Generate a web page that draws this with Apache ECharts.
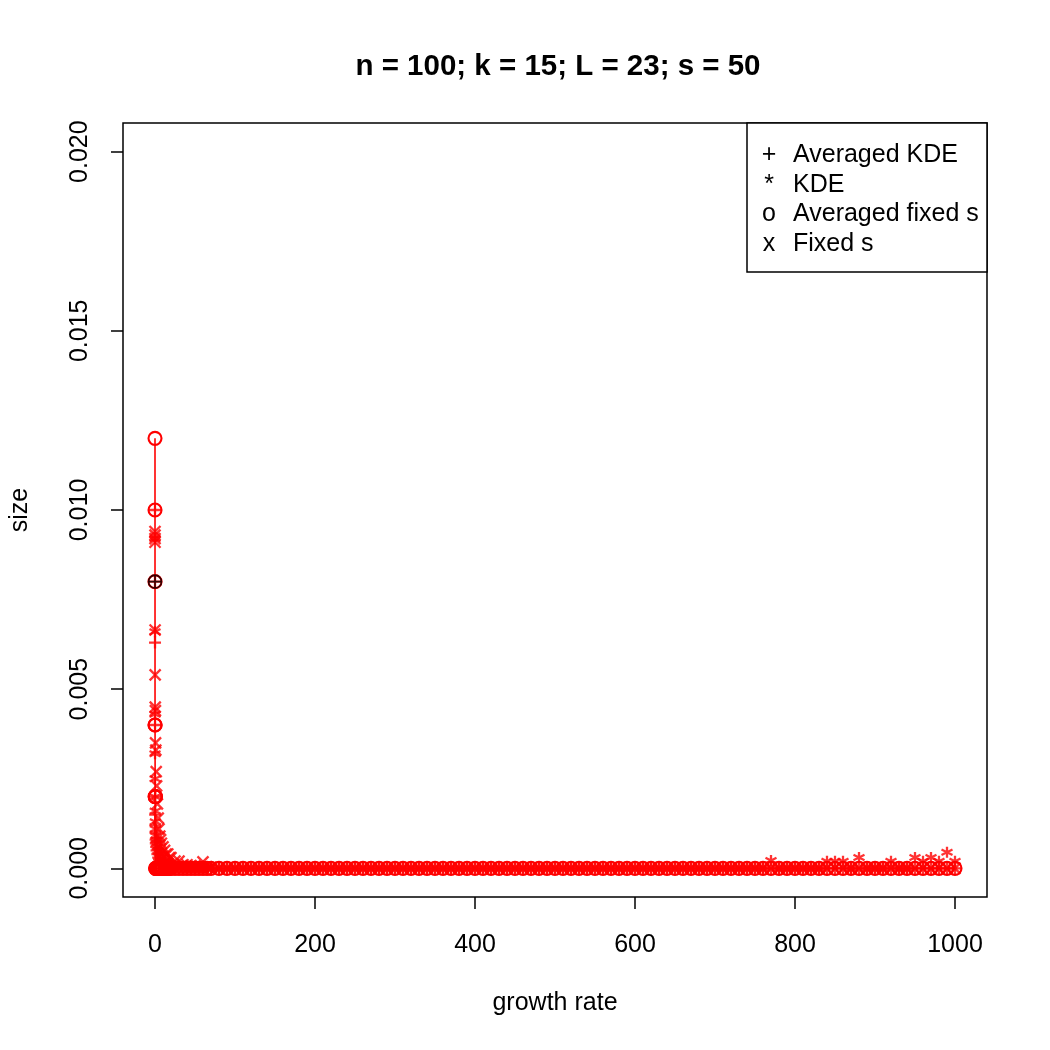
<!DOCTYPE html>
<html><head><meta charset="utf-8">
<script src="https://cdn.jsdelivr.net/npm/echarts@6/dist/echarts.min.js"></script>
<style>html,body{margin:0;padding:0;background:#fff}#c{width:1050px;height:1050px}</style>
</head><body><div id="c"></div>
<script>
const titleText = 'n = 100; k = 15; L = 23; s = 50';
const xTicks = [0, 200, 400, 600, 800, 1000];
const yTicks = [0, 0.005, 0.010, 0.015, 0.020];
const legendNames = ['Averaged KDE', 'KDE', 'Averaged fixed s', 'Fixed s'];
const legendChars = ['+', '*', 'o', 'x'];

const growthRate = [
  0,0.01,0.02,0.05,0.1,0.2,0.3,0.5,0.7,1,
  1.5,2,3,4,5,6,7,8,10,12,
  14,16,18,20,25,30,35,40,45,50,
  55,60,65,70,
  80,90,100,110,120,130,140,150,160,170,
  180,190,200,210,220,230,240,250,260,270,
  280,290,300,310,320,330,340,350,360,370,
  380,390,400,410,420,430,440,450,460,470,
  480,490,500,510,520,530,540,550,560,570,
  580,590,600,610,620,630,640,650,660,670,
  680,690,700,710,720,730,740,750,760,770,
  780,790,800,810,820,830,840,850,860,870,
  880,890,900,910,920,930,940,950,960,970,
  980,990,1000
];

const averagedKDE = [
  0.010,0.008,0.0063,0.004,0.002,0.0015,0.0012,0.001,0.0008,0.0007,
  0.0006,0.0005,0.0004,0.0003,0.00025,0.0002,0.00015,0.0001,0.00008,0.00006,
  0.00005,0.00004,0.00003,0.00003,0.00002,0.00002,0.00002,0.00002,0.00002,0.00002,
  0.00002,0.00002,0.00002,0.00002,
  0,0,0,0,0,0,0,0,0,0, 0,0,0,0,0,0,0,0,0,0, 0,0,0,0,0,0,0,0,0,0,
  0,0,0,0,0,0,0,0,0,0, 0,0,0,0,0,0,0,0,0,0, 0,0,0,0,0,0,0,0,0,0,
  0,0,0,0,0,0,0,0,0,0, 0,0,0,0,0,0,0,0,0,0, 0,0,0,0,0,0,0,0,0,0,
  0,0,0
];

const kde = [
  0.0092,0.0066,0.0043,0.0032,0.0025,0.002,0.0016,0.0013,0.0011,0.0009,
  0.0008,0.0007,0.0006,0.0005,0.00045,0.0004,0.00035,0.0003,0.00025,0.0002,
  0.00018,0.00015,0.00012,0.0001,0.00008,0.00006,0.00005,0.00004,0.00003,0.00003,
  0.00003,0.00003,0.00003,0.00003,
  0,0,0,0,0,0,0,0,0,0, 0,0,0,0,0,0,0,0,0,0, 0,0,0,0,0,0,0,0,0,0,
  0,0,0,0,0,0,0,0,0,0, 0,0,0,0,0,0,0,0,0,0, 0,0,0,0,0,0,0,0,0,0,
  0,0,0,0,0,0,0,0,0,0.00022,
  0,0,0,0,0,0,0.0002,0.0002,0.0002,0,
  0.0003,0,0,0,0.0002,0,0,0.0003,0.0002,0.0003,
  0.0002,0.00045,0.0002
];

const averagedFixedS = [
  0.012,0.010,0.008,0.004,0.004,0.002,0.002,0.002,0,0,
  0,0,0,0,0,0,0,0,0,0, 0,0,0,0,0,0,0,0,0,0,
  0,0,0,0,
  0,0,0,0,0,0,0,0,0,0, 0,0,0,0,0,0,0,0,0,0, 0,0,0,0,0,0,0,0,0,0,
  0,0,0,0,0,0,0,0,0,0, 0,0,0,0,0,0,0,0,0,0, 0,0,0,0,0,0,0,0,0,0,
  0,0,0,0,0,0,0,0,0,0, 0,0,0,0,0,0,0,0,0,0, 0,0,0,0,0,0,0,0,0,0,
  0,0,0
];

const fixedS = [
  0.0094,0.0093,0.0092,0.0091,0.00665,0.0054,0.0045,0.0044,0.0035,0.0033,
  0.0027,0.0023,0.0018,0.0014,0.0011,0.0009,0.0008,0.0007,0.0006,0.0005,
  0.0004,0.0004,0.0003,0.0003,0.0002,0.0002,0.0001,0.0001,0.00008,0.00006,
  0.00005,0.00018,0.00004,0.00003,
  0,0,0,0,0,0,0,0,0,0, 0,0,0,0,0,0,0,0,0,0, 0,0,0,0,0,0,0,0,0,0,
  0,0,0,0,0,0,0,0,0,0, 0,0,0,0,0,0,0,0,0,0, 0,0,0,0,0,0,0,0,0,0,
  0,0,0,0,0,0,0,0,0,0, 0,0,0,0,0,0,0,0,0,0, 0,0,0,0,0,0,0,0,0,0,
  0,0,0
];

// overlapping marks drawn in black at the spike
const blackMarks = [[0.01, 0.008]];

const RED = '#ff0000';
const FONT = 'Liberation Sans, Arial, Helvetica, sans-serif';
const pair = (vals) => growthRate.map((g, i) => [g, vals[i]]);

const plusPath = 'path://M0,5L10,5M5,0L5,10';
const crossPath = 'path://M0,0L10,10M10,0L0,10';
const starPath = 'path://M5,0L5,10M0.67,2.5L9.33,7.5M9.33,2.5L0.67,7.5';

const chart = echarts.init(document.getElementById('c'), null, {renderer: 'canvas'});
const axisCommon = {
  type: 'value',
  splitLine: {show: false},
  axisLine: {show: false, onZero: false},
  axisTick: {show: true, length: 12, lineStyle: {color: '#000', width: 1.5}},
  nameTextStyle: {fontSize: 25, color: '#000', fontFamily: FONT},
  nameLocation: 'middle'
};
chart.setOption({
  animation: false,
  backgroundColor: '#fff',
  title: {
    text: titleText, left: 553, top: 47, textAlign: 'center',
    textStyle: {fontSize: 29.5, fontWeight: 'bold', color: '#000', fontFamily: FONT}
  },
  grid: {left: 123, right: 63, top: 123, bottom: 153, show: true, borderColor: '#000', borderWidth: 1.5,
    backgroundColor: 'transparent', outerBoundsMode: 'none', containLabel: false},
  xAxis: Object.assign({}, axisCommon, {
    min: -40, max: 1040,
    name: 'growth rate', nameGap: 94,
    axisTick: Object.assign({}, axisCommon.axisTick, {customValues: xTicks}),
    axisLabel: {customValues: xTicks, fontSize: 25, color: '#000', fontFamily: FONT, margin: 36,
      formatter: v => String(v)}
  }),
  yAxis: Object.assign({}, axisCommon, {
    min: -0.0008, max: 0.0208,
    name: 'size', nameGap: 90,
    axisTick: Object.assign({}, axisCommon.axisTick, {customValues: yTicks}),
    axisLabel: {customValues: yTicks, rotate: 90, fontSize: 25, color: '#000', fontFamily: FONT, margin: 30,
      formatter: v => v.toFixed(3)}
  }),
  series: [
    {name: legendNames[2], type: 'line', data: pair(averagedFixedS), symbol: 'circle', symbolSize: 13,
      lineStyle: {color: RED, width: 1.6},
      itemStyle: {color: 'transparent', borderColor: RED, borderWidth: 2.1}, z: 2},
    {name: legendNames[0], type: 'scatter', data: pair(averagedKDE), symbol: plusPath, symbolSize: 12,
      itemStyle: {color: RED, borderColor: RED, borderWidth: 2.3}, z: 3},
    {name: legendNames[1], type: 'scatter', data: pair(kde), symbol: starPath, symbolSize: 11,
      itemStyle: {color: RED, borderColor: RED, borderWidth: 2.3}, z: 4},
    {name: legendNames[3], type: 'scatter', data: pair(fixedS), symbol: crossPath, symbolSize: 11,
      itemStyle: {color: RED, borderColor: RED, borderWidth: 2.3}, z: 5},
    {type: 'scatter', data: blackMarks, symbol: 'circle', symbolSize: 13,
      itemStyle: {color: 'transparent', borderColor: '#000', borderWidth: 1.6}, z: 6},
    {type: 'scatter', data: blackMarks, symbol: plusPath, symbolSize: 12,
      itemStyle: {color: '#000', borderColor: '#000', borderWidth: 1.6}, z: 6}
  ],
  graphic: [
    {type: 'rect', shape: {x: 747, y: 123, width: 240, height: 149},
      style: {fill: '#fff', stroke: '#000', lineWidth: 1.5}, z: 10},
  ].concat(legendNames.flatMap((nm, i) => [
    {type: 'text', x: 769, y: 155 + i * 29.7, z: 11,
      style: {text: legendChars[i], fontSize: 25, fontFamily: FONT, fill: '#000', align: 'center', verticalAlign: 'middle'}},
    {type: 'text', x: 793, y: 155 + i * 29.7, z: 11,
      style: {text: nm, fontSize: 25, fontFamily: FONT, fill: '#000', align: 'left', verticalAlign: 'middle'}}
  ]))
});
</script></body></html>
